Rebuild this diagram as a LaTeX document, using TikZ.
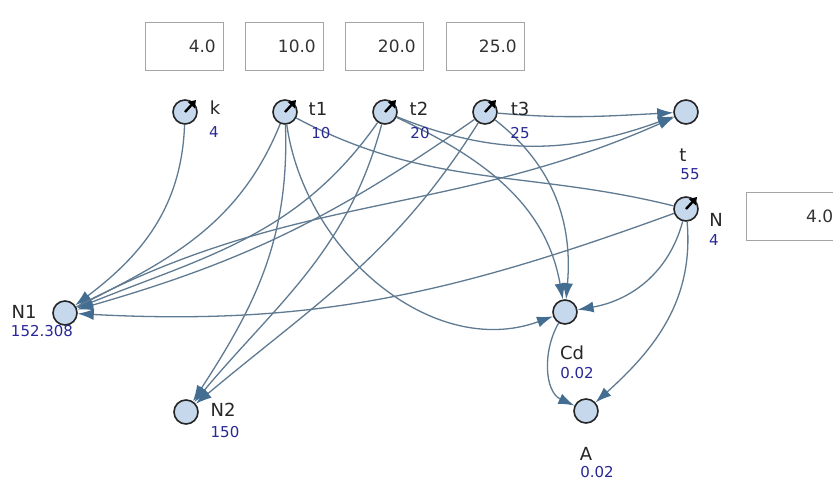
\documentclass[tikz,border=0pt]{standalone}
\usepackage{fontspec}
\setmainfont{DejaVu Sans}
\usetikzlibrary{arrows.meta}
\definecolor{nodefill}{RGB}{197,216,236}
\definecolor{edgecol}{RGB}{95,122,145}
\definecolor{arrowcol}{RGB}{68,110,145}
\definecolor{valcol}{RGB}{40,40,150}
\definecolor{boxcol}{RGB}{165,165,165}
\begin{document}
\begin{tikzpicture}[x=1pt,y=1pt,
 var/.style={circle, draw=black!85, line width=1.6pt, fill=nodefill, minimum size=24pt, inner sep=0pt},
 nm/.style={font=\fontsize{18}{18}\selectfont, text=black!85, inner sep=0pt},
 val/.style={font=\fontsize{15}{15}\selectfont, text=valcol, inner sep=0pt},
 edge/.style={draw=edgecol, line width=1.3pt, -{Latex[length=16pt,width=11pt,color=arrowcol]}},
 link/.style={draw=edgecol, line width=1.3pt},
 knob/.style={draw=black, line width=2.4pt, -{Triangle[length=7pt,width=9pt]}},
 inbox/.style={draw=boxcol, line width=0.8pt, fill=white, minimum width=78pt, minimum height=48pt, inner sep=0pt},
 boxtxt/.style={font=\fontsize{17}{17}\selectfont, text=black!80, inner sep=0pt, anchor=east}
]
\useasboundingbox (0,0) rectangle (833,-482);
\clip (0,0) rectangle (833,-482);
\fill[white] (0,0) rectangle (833,-482);

% input boxes
\node[inbox] (b1) at (184,-46) {};
\node[boxtxt] (b1t) at (216,-46) {4.0};
\node[inbox] (b2) at (284,-46) {};
\node[boxtxt] (b2t) at (316,-46) {10.0};
\node[inbox] (b3) at (384,-46) {};
\node[boxtxt] (b3t) at (416,-46) {20.0};
\node[inbox] (b4) at (485,-46) {};
\node[boxtxt] (b4t) at (517,-46) {25.0};
\node[inbox, minimum width=150pt] (bN) at (821,-216) {};
\node[boxtxt, anchor=west] (bNt) at (806,-216) {4.0};

% variables
\node[var] (k)  at (185,-112) {};
\node[var] (t1) at (285,-112) {};
\node[var] (t2) at (385,-112) {};
\node[var] (t3) at (485,-112) {};
\node[var] (t)  at (686,-112) {};
\node[var] (N)  at (686,-209) {};
\node[var] (N1) at (65,-313) {};
\node[var] (Cd) at (565,-312) {};
\node[var] (N2) at (186,-412) {};
\node[var] (A)  at (586,-411) {};

% edges
\draw[edge] (k)  to[out=-92, in=37] (N1);
\draw[edge] (t1) to[out=-112, in=27] (N1);
\draw[edge] (t2) to[out=-125, in=22] (N1);
\draw[edge] (t3) to[out=-145, in=16] (N1);
\draw[edge] (N)  to[out=200, in=-3] (N1);
\draw[edge] (N1) to[out=28, in=204] (t);
\draw[edge] (t3) to[out=-5, in=183] (t);
\draw[edge] (t2) to[out=-22, in=200] (t);
\draw[link] (t1) to[out=-28, in=166] (N);
\draw[edge] (t1) to[out=-88, in=57] (N2);
\draw[edge] (t2) to[out=-105, in=50] (N2);
\draw[edge] (t3) to[out=-122, in=40] (N2);
\draw[edge] (t1) to[out=-82, in=200] (Cd);
\draw[edge] (t2) to[out=-25, in=100] (Cd);
\draw[edge] (t3) to[out=-38, in=85] (Cd);
\draw[edge] (N)  to[out=-105, in=10] (Cd);
\draw[edge] (N)  to[out=-85, in=42] (A);
\draw[edge] (Cd) to[out=-120, in=155] (A);

% slider knobs
\draw[knob] (k.center)  -- ++(11,12);
\draw[knob] (t1.center) -- ++(11,12);
\draw[knob] (t2.center) -- ++(11,12);
\draw[knob] (t3.center) -- ++(11,12);
\draw[knob] (N.center)  -- ++(11,12);

% labels
\node[nm]  (kn)  at (215,-108) {k};
\node[val] (kv)  at (214,-132) {4};
\node[nm]  (t1n) at (318,-109) {t1};
\node[val] (t1v) at (321,-133) {10};
\node[nm]  (t2n) at (419,-109) {t2};
\node[val] (t2v) at (420,-133) {20};
\node[nm]  (t3n) at (520,-109) {t3};
\node[val] (t3v) at (520,-133) {25};
\node[nm]  (tn)  at (683,-155) {t};
\node[val] (tv)  at (690,-174) {55};
\node[nm]  (Nn)  at (716,-220) {N};
\node[val] (Nv)  at (714,-240) {4};
\node[nm]  (N1n) at (24,-312) {N1};
\node[val] (N1v) at (42,-331) {152.308};
\node[nm]  (Cdn) at (572,-353) {Cd};
\node[val] (Cdv) at (577,-373) {0.02};
\node[nm]  (N2n) at (223,-410) {N2};
\node[val] (N2v) at (225,-432) {150};
\node[nm]  (An)  at (586,-454) {A};
\node[val] (Av)  at (597,-472) {0.02};
\end{tikzpicture}
\end{document}
